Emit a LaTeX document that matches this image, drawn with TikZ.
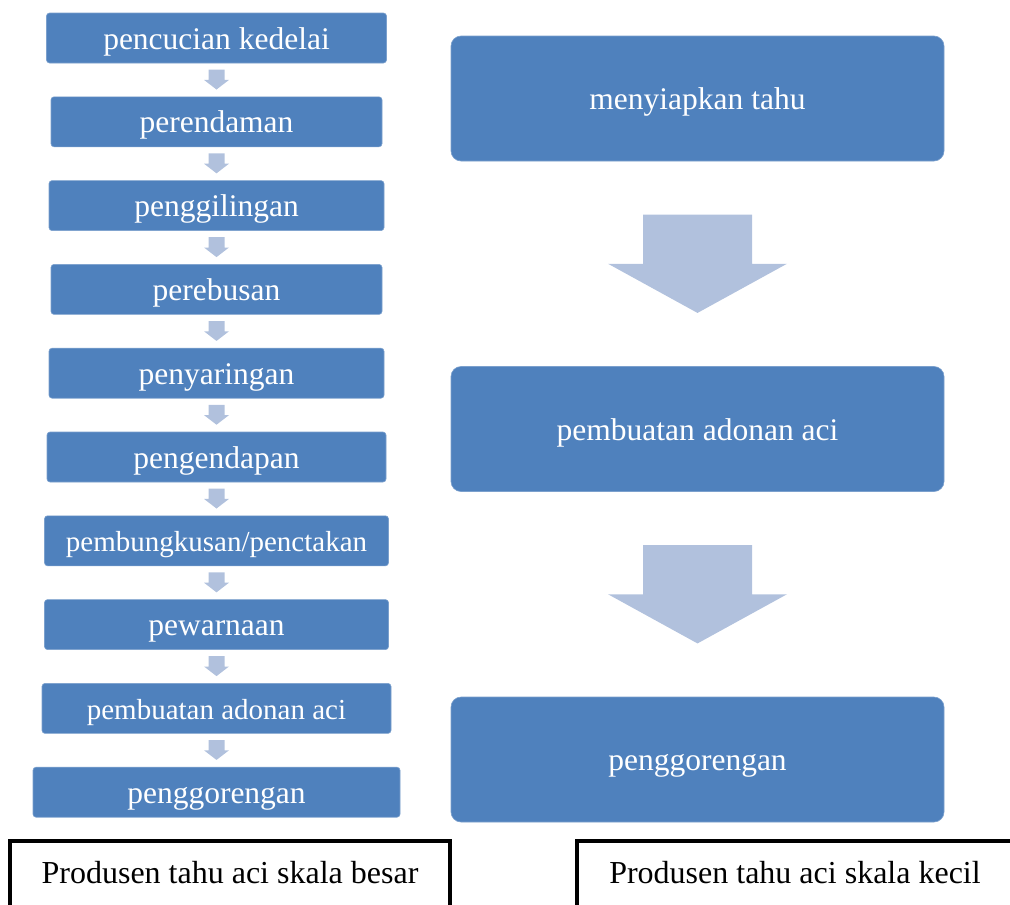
\documentclass[tikz,border=0pt]{standalone}
\usepackage{fontspec}
\setmainfont{Liberation Serif}
\usetikzlibrary{calc}

\definecolor{biru}{RGB}{79,129,189}
\definecolor{birumuda}{RGB}{177,193,221}

\begin{document}
\begin{tikzpicture}[x=1pt,y=-1pt,
	proses/.style={fill=biru,draw=biru!75!white,line width=0.6pt,rounded corners=3pt,text=white,
		minimum height=50pt,inner sep=0pt,text height=22pt,text depth=0pt,
		font=\fontsize{31.5}{36}\selectfont},
	tahap/.style={proses,rounded corners=10pt,minimum width=493pt,minimum height=125pt},
	panah/.style={fill=birumuda},
	keterangan/.style={draw=black,line width=4pt,inner sep=0pt,minimum height=82pt,
		text height=22pt,text depth=20pt,font=\fontsize{32}{38}\selectfont}]
	\useasboundingbox (0,0) rectangle (1010,905);
	\clip (0,0) rectangle (1010,905);

	%skala besar
	\node[proses,minimum width=340pt] (s1) at (216.5,38) {pencucian kedelai};
	\node[proses,minimum width=331pt] (s2) at (216.5,121.8) {perendaman};
	\node[proses,minimum width=335pt] (s3) at (216.5,205.6) {penggilingan};
	\node[proses,minimum width=331pt] (s4) at (216.5,289.4) {perebusan};
	\node[proses,minimum width=335pt] (s5) at (216.5,373.2) {penyaringan};
	\node[proses,minimum width=339pt] (s6) at (216.5,457) {pengendapan};
	\node[proses,minimum width=344pt,font=\fontsize{29}{34}\selectfont] (s7) at (216.5,540.8) {pembungkusan/penctakan};
	\node[proses,minimum width=344pt] (s8) at (216.5,624.6) {pewarnaan};
	\node[proses,minimum width=349pt,font=\fontsize{29}{34}\selectfont] (s9) at (216.5,708.4) {pembuatan adonan aci};
	\node[proses,minimum width=367pt] (s10) at (216.5,792.2) {penggorengan};

	\foreach \a/\b in {s1/s2,s2/s3,s3/s4,s4/s5,s5/s6,s6/s7,s7/s8,s8/s9,s9/s10}
	\fill[panah] ($(\a.south)!.19!(\b.north)+(-8,0)$) -- ($(\a.south)!.19!(\b.north)+(8,0)$)
		-- ($(\a.south)!.5!(\b.north)+(8,0)$) -- ($(\a.south)!.5!(\b.north)+(12.5,0)$)
		-- ($(\a.south)!.79!(\b.north)$)
		-- ($(\a.south)!.5!(\b.north)+(-12.5,0)$) -- ($(\a.south)!.5!(\b.north)+(-8,0)$) -- cycle;

	%skala kecil
	\node[tahap] (k1) at (697.5,98.5) {menyiapkan tahu};
	\node[tahap] (k2) at (697.5,429) {pembuatan adonan aci};
	\node[tahap] (k3) at (697.5,759.5) {penggorengan};

	\foreach \a/\b in {k1/k2,k2/k3}
	\fill[panah] ($(\a.south)!.26!(\b.north)+(-54.5,0)$) -- ($(\a.south)!.26!(\b.north)+(54.5,0)$)
		-- ($(\a.south)!.5!(\b.north)+(54.5,0)$) -- ($(\a.south)!.5!(\b.north)+(89.5,0)$)
		-- ($(\a.south)!.74!(\b.north)$)
		-- ($(\a.south)!.5!(\b.north)+(-89.5,0)$) -- ($(\a.south)!.5!(\b.north)+(-54.5,0)$) -- cycle;

	%labels
	\node[keterangan,minimum width=440pt] (ket1) at (230,882) {Produsen tahu aci skala besar};
	\node[keterangan,minimum width=436pt] (ket2) at (795,882) {Produsen tahu aci skala kecil};
\end{tikzpicture}
\end{document}
